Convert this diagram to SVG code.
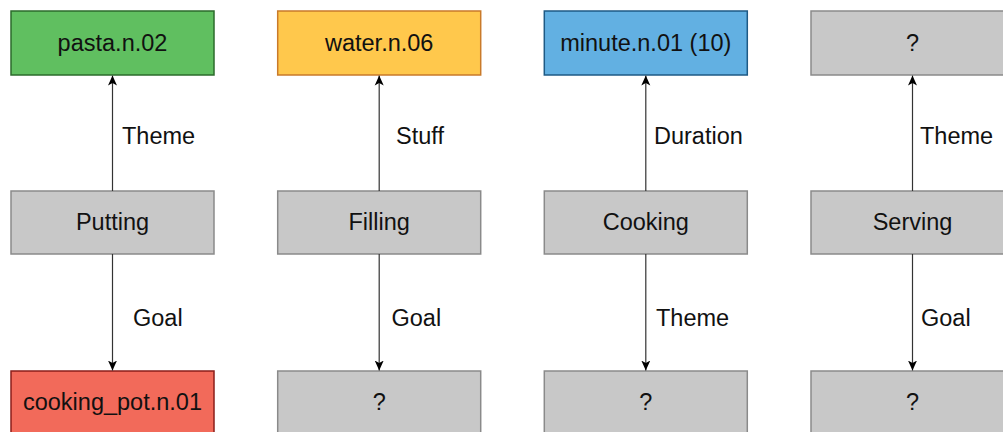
<svg xmlns="http://www.w3.org/2000/svg" width="1003" height="432" viewBox="0 0 1003 432">
  <style>
    .box { stroke-width: 1.5; }
    .gray { fill: #c8c8c8; stroke: #8a8a8a; }
    .green { fill: #60bf60; stroke: #2b6b2b; }
    .yellow { fill: #ffc84c; stroke: #c97a2a; }
    .blue { fill: #62b0e2; stroke: #1e5a85; }
    .red { fill: #f26a5a; stroke: #8b1e1a; }
    text { font-family: "Liberation Sans", Arial, sans-serif; font-size: 23.5px; fill: #111; }
    .node text { text-anchor: middle; }
    .edge { stroke: #333; stroke-width: 1.2; fill: none; marker-end: url(#arrow); }
  </style>
  <defs>
    <marker id="arrow" viewBox="0 0 10 12" refX="10" refY="6" markerWidth="10" markerHeight="12" markerUnits="userSpaceOnUse" orient="auto">
      <path d="M0,1.5 L10,6 L0,10.5 L2.5,6 Z" fill="#000"/>
    </marker>
  </defs>

  <!-- Column 1: Putting -->
  <g id="pasta" class="node"><rect class="box green" x="11" y="11" width="203" height="64"/><text x="112.5" y="51">pasta.n.02</text></g>
  <g id="putting" class="node"><rect class="box gray" x="11" y="191" width="203" height="63"/><text x="112.5" y="230">Putting</text></g>
  <g id="cooking_pot" class="node"><rect class="box red" x="11" y="371" width="203" height="64"/><text x="112.5" y="410">cooking_pot.n.01</text></g>

  <!-- Column 2: Filling -->
  <g id="water" class="node"><rect class="box yellow" x="277.7" y="11" width="203" height="64"/><text x="379.2" y="51">water.n.06</text></g>
  <g id="filling" class="node"><rect class="box gray" x="277.7" y="191" width="203" height="63"/><text x="379.2" y="230">Filling</text></g>
  <g id="filling_goal" class="node"><rect class="box gray" x="277.7" y="371" width="203" height="64"/><text x="379.2" y="410">?</text></g>

  <!-- Column 3: Cooking -->
  <g id="minute" class="node"><rect class="box blue" x="544.3" y="11" width="203" height="64"/><text x="645.8" y="51">minute.n.01 (10)</text></g>
  <g id="cooking" class="node"><rect class="box gray" x="544.3" y="191" width="203" height="63"/><text x="645.8" y="230">Cooking</text></g>
  <g id="cooking_theme" class="node"><rect class="box gray" x="544.3" y="371" width="203" height="64"/><text x="645.8" y="410">?</text></g>

  <!-- Column 4: Serving -->
  <g id="serving_theme" class="node"><rect class="box gray" x="811" y="11" width="203" height="64"/><text x="912.5" y="51">?</text></g>
  <g id="serving" class="node"><rect class="box gray" x="811" y="191" width="203" height="63"/><text x="912.5" y="230">Serving</text></g>
  <g id="serving_goal" class="node"><rect class="box gray" x="811" y="371" width="203" height="64"/><text x="912.5" y="410">?</text></g>

  <!-- Connectors and role labels -->
  <g id="connectors">
    <line class="edge" x1="112.5" y1="191" x2="112.5" y2="75.5"/>
    <line class="edge" x1="112.5" y1="254" x2="112.5" y2="370.5"/>
    <line class="edge" x1="379.2" y1="191" x2="379.2" y2="75.5"/>
    <line class="edge" x1="379.2" y1="254" x2="379.2" y2="370.5"/>
    <line class="edge" x1="645.8" y1="191" x2="645.8" y2="75.5"/>
    <line class="edge" x1="645.8" y1="254" x2="645.8" y2="370.5"/>
    <line class="edge" x1="912.5" y1="191" x2="912.5" y2="75.5"/>
    <line class="edge" x1="912.5" y1="254" x2="912.5" y2="370.5"/>
    <text x="122" y="144">Theme</text>
    <text x="133" y="326">Goal</text>
    <text x="396" y="144">Stuff</text>
    <text x="391.5" y="326">Goal</text>
    <text x="654" y="144">Duration</text>
    <text x="656" y="326">Theme</text>
    <text x="920" y="144">Theme</text>
    <text x="921" y="326">Goal</text>
  </g>
</svg>
